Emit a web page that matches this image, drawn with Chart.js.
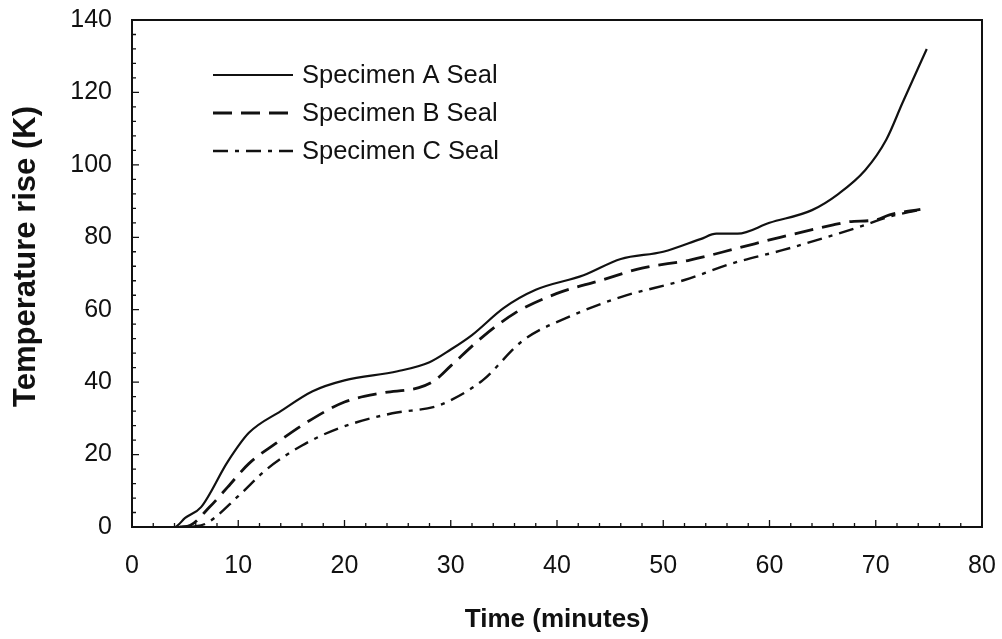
<!DOCTYPE html>
<html>
<head>
<meta charset="utf-8">
<script src="https://cdn.jsdelivr.net/npm/chart.js@4.4.1/dist/chart.umd.min.js"></script>
<style>
  html, body { margin: 0; padding: 0; background: #fff; }
  #wrap { width: 1002px; height: 639px; }
</style>
</head>
<body>
<div id="wrap"><canvas id="chart" width="1002" height="639"></canvas></div>
<script>
// values
let timeA = [2, 4, 5, 6.5, 9, 11, 14, 17, 20, 25, 28, 30, 32, 35, 38, 42.5, 46, 50, 53.5, 55, 57, 60, 64, 66.5, 69, 71, 72.5, 74.8];
let tempA = [0, 0, 2.5, 5.5, 18, 26, 32, 37.5, 40.5, 43, 45.5, 49, 53, 60.5, 65.5, 69.5, 74, 76, 79.5, 81, 81, 84, 87.5, 92, 98.5, 107, 117, 132];

let timeB = [4.5, 5.5, 7.3, 9, 11, 13.5, 16.5, 20, 23.5, 27, 28.5, 30, 33, 36, 40, 44, 48, 52.5, 57, 61, 66, 67.5, 70, 71.3, 74.2];
let tempB = [0, 0.5, 5.5, 11, 17.5, 23, 29, 34.5, 37, 38.5, 40.5, 44.5, 52.5, 59, 64.5, 68, 71.5, 73.7, 77, 80, 83.4, 84.3, 84.8, 86.2, 87.7];

let timeC = [5.5, 7, 10, 12.7, 16, 19.5, 24.5, 28.5, 30, 33, 36.8, 41.5, 46, 52, 56.5, 61.3, 66, 68.5, 71.3, 74];
let tempC = [0, 1, 8.5, 16, 22.5, 27.3, 31.4, 33.2, 35, 40.5, 51.5, 58.5, 63.5, 68.2, 72.8, 76.5, 80.6, 82.9, 85.7, 87.5];

let xTicks = [0, 10, 20, 30, 40, 50, 60, 70, 80];
let yTicks = [0, 20, 40, 60, 80, 100, 120, 140];

let seriesNames = ["Specimen A Seal", "Specimen B Seal", "Specimen C Seal"];
let xTitle = "Time (minutes)";
let yTitle = "Temperature rise (K)";

function pts(xs, ys) {
  return xs.map((x, i) => ({ x: x, y: ys[i] }));
}

const ink = "#111";
const font = "'Liberation Sans', Arial, sans-serif";

// frame, inside ticks, axis titles and in-plot legend
let decor = {
  id: "decor",
  afterDraw(chart) {
    let ctx = chart.ctx;
    let a = chart.chartArea;
    let xs = chart.scales.x, ys = chart.scales.y;
    ctx.save();
    ctx.strokeStyle = ink;
    ctx.lineWidth = 2;
    ctx.strokeRect(a.left, a.top, a.right - a.left, a.bottom - a.top);

    ctx.lineWidth = 1.3;
    ctx.beginPath();
    for (let v = 0; v <= 80; v += 2) {
      let px = xs.getPixelForValue(v);
      let len = v % 10 === 0 ? 7 : 4;
      ctx.moveTo(px, a.bottom);
      ctx.lineTo(px, a.bottom - len);
    }
    for (let v = 0; v <= 140; v += 4) {
      let py = ys.getPixelForValue(v);
      let len = v % 20 === 0 ? 7 : 4;
      ctx.moveTo(a.left, py);
      ctx.lineTo(a.left + len, py);
    }
    ctx.stroke();

    // axis titles
    ctx.fillStyle = ink;
    ctx.textAlign = "center";
    ctx.textBaseline = "alphabetic";
    ctx.font = "bold 26px " + font;
    ctx.fillText(xTitle, (a.left + a.right) / 2, a.bottom + 100);
    ctx.save();
    ctx.translate(35, (a.top + a.bottom) / 2 - 17);
    ctx.rotate(-Math.PI / 2);
    ctx.font = "bold 31px " + font;
    ctx.fillText(yTitle, 0, 0);
    ctx.restore();

    // legend
    let lx = a.left + 81, ly = a.top + 55, lw = 80, gap = 38;
    chart.data.datasets.forEach((ds, i) => {
      let y = ly + i * gap;
      ctx.beginPath();
      ctx.setLineDash(ds.borderDash || []);
      ctx.lineWidth = ds.borderWidth;
      ctx.strokeStyle = ds.borderColor;
      ctx.moveTo(lx, y);
      ctx.lineTo(lx + lw, y);
      ctx.stroke();
      ctx.setLineDash([]);
      ctx.fillStyle = ink;
      ctx.font = "25.5px " + font;
      ctx.textBaseline = "middle";
      ctx.textAlign = "left";
      ctx.fillText(ds.label, lx + lw + 9, y + 1);
    });
    ctx.restore();
  }
};

let ctx = document.getElementById("chart").getContext("2d");

let chart = new Chart(ctx, {
  type: "line",
  data: {
    datasets: [
      { label: seriesNames[0], data: pts(timeA, tempA), borderColor: ink, borderWidth: 2.2, borderDash: [] },
      { label: seriesNames[1], data: pts(timeB, tempB), borderColor: ink, borderWidth: 2.8, borderDash: [19, 9] },
      { label: seriesNames[2], data: pts(timeC, tempC), borderColor: ink, borderWidth: 2.4, borderDash: [15, 7, 4, 7] }
    ]
  },
  options: {
    responsive: false,
    animation: false,
    layout: { padding: { left: 0, right: 20, top: 20, bottom: 0 } },
    elements: {
      point: { radius: 0 },
      line: { cubicInterpolationMode: "monotone", fill: false }
    },
    plugins: {
      legend: { display: false },
      tooltip: { enabled: false }
    },
    scales: {
      x: {
        type: "linear",
        min: 0, max: 80,
        afterBuildTicks: s => { s.ticks = xTicks.map(v => ({ value: v })); },
        afterFit: s => { s.height = 112; s.paddingLeft = 0; s.paddingRight = 0; },
        grid: { display: false, drawTicks: false },
        border: { display: false },
        ticks: { color: ink, padding: 24, maxRotation: 0, font: { family: font, size: 25 } }
      },
      y: {
        type: "linear",
        min: 0, max: 140,
        afterBuildTicks: s => { s.ticks = yTicks.map(v => ({ value: v })); },
        afterFit: s => { s.width = 132; s.paddingTop = 0; s.paddingBottom = 0; },
        grid: { display: false, drawTicks: false },
        border: { display: false },
        ticks: { color: ink, padding: 20, font: { family: font, size: 25 } }
      }
    }
  },
  plugins: [decor]
});
</script>
</body>
</html>
